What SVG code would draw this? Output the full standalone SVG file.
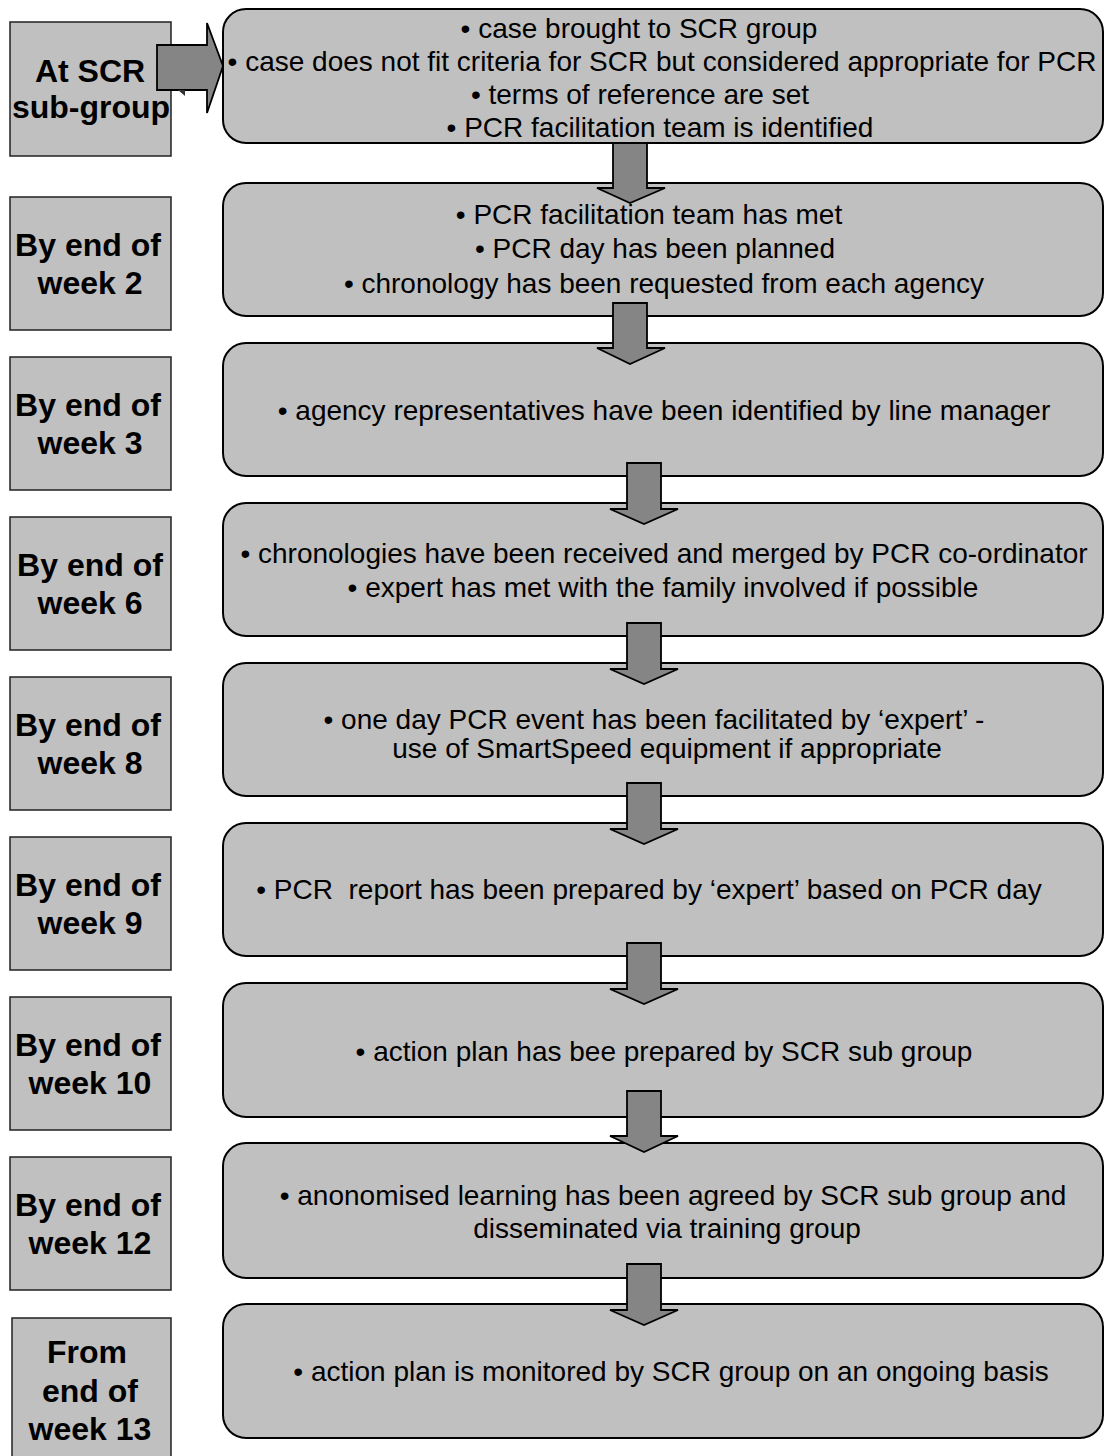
<svg xmlns="http://www.w3.org/2000/svg" width="1105" height="1456" viewBox="0 0 1105 1456">
<style>
.lbox{fill:#c0c0c0;stroke:#222;stroke-width:1.5}
.rbox{fill:#c0c0c0;stroke:#000;stroke-width:2}
.lt{font-family:"Liberation Sans",Arial,sans-serif;font-weight:bold;font-size:32px;fill:#000;text-anchor:middle}
.rt{font-family:"Liberation Sans",Arial,sans-serif;font-size:28px;fill:#000;text-anchor:middle;white-space:pre}
.arr{fill:#858585;stroke:#000;stroke-width:1.8;stroke-linejoin:miter}
</style>
<rect width="1105" height="1456" fill="#fff"/>
<g id="l1"><rect class="lbox" x="10" y="22" width="161" height="134"/><text class="lt" x="90" y="82">At SCR</text><text class="lt" x="91" y="118">sub-group</text></g>
<g id="l2"><rect class="lbox" x="10" y="197" width="161" height="133"/><text class="lt" x="88" y="256">By end of</text><text class="lt" x="90" y="294">week 2</text></g>
<g id="l3"><rect class="lbox" x="10" y="357" width="161" height="133"/><text class="lt" x="88" y="416">By end of</text><text class="lt" x="90" y="454">week 3</text></g>
<g id="l4"><rect class="lbox" x="10" y="517" width="161" height="133"/><text class="lt" x="90" y="576">By end of</text><text class="lt" x="90" y="614">week 6</text></g>
<g id="l5"><rect class="lbox" x="10" y="677" width="161" height="133"/><text class="lt" x="88" y="736">By end of</text><text class="lt" x="90" y="774">week 8</text></g>
<g id="l6"><rect class="lbox" x="10" y="837" width="161" height="133"/><text class="lt" x="88" y="896">By end of</text><text class="lt" x="90" y="934">week 9</text></g>
<g id="l7"><rect class="lbox" x="10" y="997" width="161" height="133"/><text class="lt" x="88" y="1056">By end of</text><text class="lt" x="90" y="1094">week 10</text></g>
<g id="l8"><rect class="lbox" x="10" y="1157" width="161" height="133"/><text class="lt" x="88" y="1216">By end of</text><text class="lt" x="90" y="1254">week 12</text></g>
<g id="l9"><rect class="lbox" x="12" y="1318" width="159" height="142"/><text class="lt" x="87" y="1363">From</text><text class="lt" x="90" y="1402">end of</text><text class="lt" x="90" y="1440">week 13</text></g>

<g id="r1"><rect class="rbox" x="223" y="9" width="880" height="134" rx="23"/>
<text class="rt" x="639" y="38">• case brought to SCR group</text>
<text class="rt" x="662" y="71">• case does not fit criteria for SCR but considered appropriate for PCR</text>
<text class="rt" x="640" y="104">• terms of reference are set</text>
<text class="rt" x="660" y="137">• PCR facilitation team is identified</text></g>
<g id="r2"><rect class="rbox" x="223" y="183" width="880" height="133" rx="23"/>
<text class="rt" x="649" y="224">• PCR facilitation team has met</text>
<text class="rt" x="655" y="258">• PCR day has been planned</text>
<text class="rt" x="664" y="293">• chronology has been requested from each agency</text></g>
<g id="r3"><rect class="rbox" x="223" y="343" width="880" height="133" rx="23"/>
<text class="rt" x="664" y="420">• agency representatives have been identified by line manager</text></g>
<g id="r4"><rect class="rbox" x="223" y="503" width="880" height="133" rx="23"/>
<text class="rt" x="664" y="563">• chronologies have been received and merged by PCR co-ordinator</text>
<text class="rt" x="663" y="597">• expert has met with the family involved if possible</text></g>
<g id="r5"><rect class="rbox" x="223" y="663" width="880" height="133" rx="23"/>
<text class="rt" x="654" y="729">• one day PCR event has been facilitated by ‘expert’ -</text>
<text class="rt" x="667" y="758">use of SmartSpeed equipment if appropriate</text></g>
<g id="r6"><rect class="rbox" x="223" y="823" width="880" height="133" rx="23"/>
<text class="rt" x="649" y="899">• PCR  report has been prepared by ‘expert’ based on PCR day</text></g>
<g id="r7"><rect class="rbox" x="223" y="983" width="880" height="134" rx="23"/>
<text class="rt" x="664" y="1061">• action plan has bee prepared by SCR sub group</text></g>
<g id="r8"><rect class="rbox" x="223" y="1143" width="880" height="135" rx="23"/>
<text class="rt" x="673" y="1205">• anonomised learning has been agreed by SCR sub group and</text>
<text class="rt" x="667" y="1238">disseminated via training group</text></g>
<g id="r9"><rect class="rbox" x="223" y="1304" width="880" height="134" rx="23"/>
<text class="rt" x="671" y="1381">• action plan is monitored by SCR group on an ongoing basis</text></g>

<g id="connectors">
<polygon class="arr" points="157,45 207,45 207,23 223,66 207,113 207,90 157,90"/>
<polygon points="178,90 185,90 185,96" fill="#333"/>
<polygon class="arr" points="613,143 647,143 647,188 665,188 630,203 597,188 613,188"/>
<polygon class="arr" points="613,303 647,303 647,348 665,348 630,364 597,348 613,348"/>
<polygon class="arr" points="627,463 661,463 661,509 678,509 644,524 610,509 627,509"/>
<polygon class="arr" points="627,623 661,623 661,669 678,669 644,684 610,669 627,669"/>
<polygon class="arr" points="627,783 661,783 661,829 678,829 644,844 610,829 627,829"/>
<polygon class="arr" points="627,943 661,943 661,989 678,989 644,1004 610,989 627,989"/>
<polygon class="arr" points="627,1091 661,1091 661,1136 678,1136 644,1152 610,1136 627,1136"/>
<polygon class="arr" points="627,1264 661,1264 661,1310 678,1310 644,1325 610,1310 627,1310"/>
</g>
</svg>
